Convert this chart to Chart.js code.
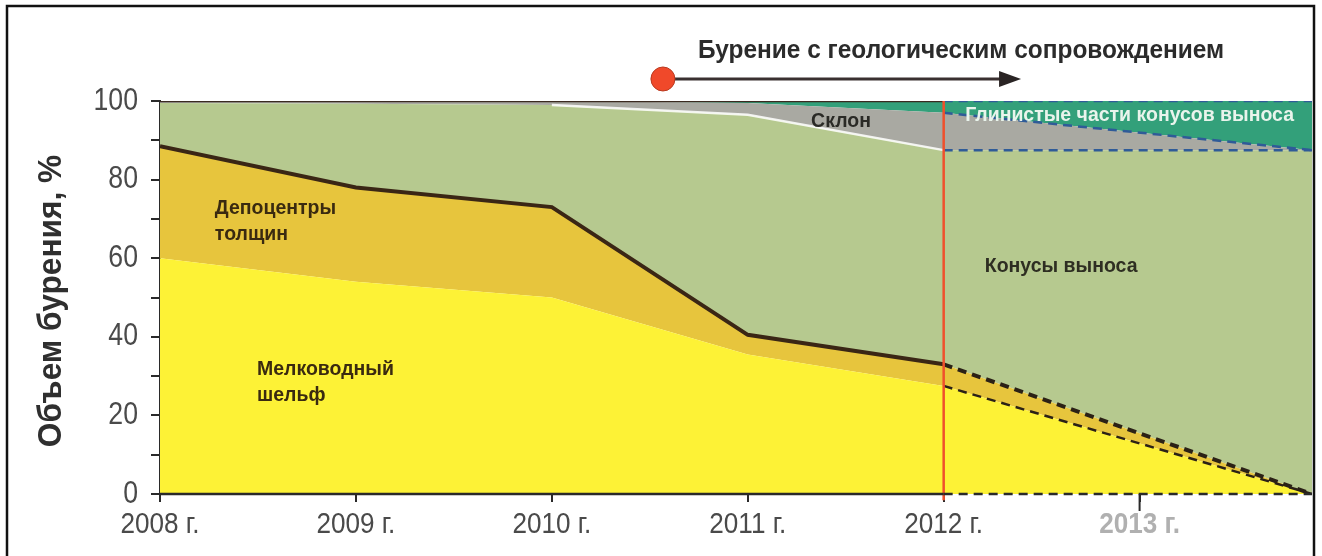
<!DOCTYPE html>
<html lang="ru">
<head>
<meta charset="utf-8">
<title>Объем бурения</title>
<script src="https://cdn.jsdelivr.net/npm/chart.js@4.4.0/dist/chart.umd.min.js"></script>
<style>
  html, body { margin: 0; padding: 0; background: #fff; }
  #box { width: 1322px; height: 556px; }
</style>
</head>
<body>
<div id="box"><canvas id="drillChart" width="1322" height="556"></canvas></div>
<script>
// x positions of the boundary points (last one is the right edge of the forecast)
const years = [2008, 2009, 2010, 2011, 2012, 2013.88];
const tickYears = [2008, 2009, 2010, 2011, 2012, 2013];
const forecastFrom = 2012;

// upper boundary of each facies zone, cumulative %
const shelf = [60, 54, 50, 35.5, 27.5, 0];          // Мелководный шельф
const depocentres = [88.5, 78, 73, 40.5, 33, 0];    // Депоцентры толщин
const fans = [99.5, 99.3, 99, 96.5, 87.5, 87.5];    // Конусы выноса
const slope = [100, 100, 100, 99.5, 97, 87.5];      // Склон
const clay = [100, 100, 100, 100, 100, 100];        // Глинистые части конусов выноса

const yTicks = [0, 20, 40, 60, 80, 100];

const FONT = "'Liberation Sans', Arial, sans-serif";

const pts = vals => vals.map((v, i) => ({ x: years[i], y: v }));
const isForecast = c => c.p0.parsed.x >= forecastFrom;
const clear = 'rgba(0,0,0,0)';
const darkDash = '#2b2116';
const blueDash = '#2f5b98';

// filled band between this boundary and the previous one
function band(label, vals, fill, color) {
  return { label, data: pts(vals), fill, backgroundColor: color, borderWidth: 0, pointRadius: 0 };
}

// boundary line, solid part and dashed forecast part
function edge(vals, before, after, width) {
  return {
    data: pts(vals),
    fill: false,
    borderWidth: width,
    pointRadius: 0,
    segment: {
      borderColor: c => isForecast(c) ? after : before(c),
      borderDash: c => isForecast(c) ? [9, 6] : undefined
    }
  };
}

function condensed(ctx, text, x, y, align, k) {
  ctx.save();
  ctx.translate(x, y);
  ctx.scale(k, 1);
  ctx.textAlign = align;
  ctx.fillText(text, 0, 0);
  ctx.restore();
}

const notes = {
  id: 'notes',
  afterDatasetsDraw(chart) {
    const { ctx, scales: { x, y } } = chart;
    const labels = [
      { lines: ['Депоцентры', 'толщин'], x: 2008.28, y: 72.8, color: '#3a2a10', align: 'left' },
      { lines: ['Мелководный', 'шельф'], x: 2008.495, y: 31.8, color: '#3a2a10', align: 'left' },
      { lines: ['Конусы выноса'], x: 2012.21, y: 58, color: '#2e2e22', align: 'left' },
      { lines: ['Склон'], x: 2011.476, y: 94.7, color: '#2a2a26', align: 'center' },
      { lines: ['Глинистые части конусов выноса'], x: 2012.11, y: 96.4, color: '#e9f4ec', align: 'left' }
    ];
    ctx.save();
    ctx.font = 'bold 20.5px ' + FONT;
    ctx.textBaseline = 'middle';
    labels.forEach(l => {
      ctx.fillStyle = l.color;
      l.lines.forEach((t, i) =>
        condensed(ctx, t, x.getPixelForValue(l.x), y.getPixelForValue(l.y) + i * 26, l.align, 0.95));
    });

    // x axis line: solid for actual years, dashed for forecast
    const y0 = y.getPixelForValue(0);
    const xs = x.getPixelForValue(forecastFrom);
    ctx.strokeStyle = '#2a2a2a';
    ctx.lineWidth = 2.5;
    ctx.beginPath();
    ctx.moveTo(chart.chartArea.left, y0);
    ctx.lineTo(xs, y0);
    ctx.stroke();
    ctx.setLineDash([9, 6]);
    ctx.beginPath();
    ctx.moveTo(xs, y0);
    ctx.lineTo(chart.chartArea.right, y0);
    ctx.stroke();
    ctx.setLineDash([]);
    // longer tick for 2013
    const x13 = x.getPixelForValue(2013);
    ctx.lineWidth = 2;
    ctx.beginPath();
    ctx.moveTo(x13, y0);
    ctx.lineTo(x13, y0 + 17);
    ctx.stroke();
    ctx.restore();
  },
  afterDraw(chart) {
    const { ctx, scales: { x, y } } = chart;
    ctx.save();

    // tick labels, narrow face
    ctx.textBaseline = 'middle';
    ctx.font = '31px ' + FONT;
    ctx.fillStyle = '#4a4a4a';
    y.ticks.forEach(t => {
      if (yTicks.includes(t.value)) condensed(ctx, String(t.value), 138, y.getPixelForValue(t.value), 'right', 0.86);
    });
    x.ticks.forEach(t => {
      const last = t.value === 2013;
      ctx.font = (last ? 'bold ' : '') + '29px ' + FONT;
      ctx.fillStyle = last ? '#b0b0b0' : '#4a4a4a';
      condensed(ctx, t.value + ' г.', x.getPixelForValue(t.value), 525, 'center', 0.9);
    });

    // arrow "drilling with geosteering"
    const ay = y.getPixelForValue(105.6);
    const ax0 = x.getPixelForValue(2010.567);
    const ax1 = x.getPixelForValue(2012.395);
    ctx.strokeStyle = '#3a3030';
    ctx.lineWidth = 3;
    ctx.beginPath();
    ctx.moveTo(ax0, ay);
    ctx.lineTo(ax1 - 18, ay);
    ctx.stroke();
    ctx.fillStyle = '#2a2424';
    ctx.beginPath();
    ctx.moveTo(ax1, ay);
    ctx.lineTo(ax1 - 22, ay - 8);
    ctx.lineTo(ax1 - 22, ay + 8);
    ctx.closePath();
    ctx.fill();
    ctx.fillStyle = '#f0492a';
    ctx.strokeStyle = '#b83a20';
    ctx.lineWidth = 1;
    ctx.beginPath();
    ctx.arc(ax0, ay, 12, 0, Math.PI * 2);
    ctx.fill();
    ctx.stroke();

    ctx.fillStyle = '#2b2b2b';
    ctx.font = 'bold 26px ' + FONT;
    ctx.textBaseline = 'alphabetic';
    condensed(ctx, 'Бурение с геологическим сопровождением', x.getPixelForValue(2010.746), 58, 'left', 0.94);

    // y axis title
    ctx.translate(52, 301);
    ctx.rotate(-Math.PI / 2);
    ctx.textBaseline = 'middle';
    ctx.font = 'bold 33px ' + FONT;
    ctx.fillStyle = '#2f2f2f';
    condensed(ctx, 'Объем бурения, %', 0, 0, 'center', 0.96);
    ctx.restore();

    // outer frame
    ctx.save();
    ctx.strokeStyle = '#111';
    ctx.lineWidth = 2.5;
    ctx.strokeRect(7, 6, 1307, 600);
    ctx.restore();
  }
};

new Chart(document.getElementById('drillChart').getContext('2d'), {
  type: 'line',
  data: {
    datasets: [
      band('Мелководный шельф', shelf, 'origin', '#fdf236'),
      band('Депоцентры толщин', depocentres, '-1', '#e7c53d'),
      band('Конусы выноса', fans, '-1', '#b6c98f'),
      band('Склон', slope, '-1', '#a9a9a2'),
      band('Глинистые части конусов выноса', clay, '-1', '#33a07a'),
      edge(shelf, () => clear, darkDash, 2.5),
      edge(depocentres, () => '#3a2615', darkDash, 4),
      edge(fans, c => c.p0.parsed.x >= 2010 ? 'rgba(255,255,255,0.85)' : clear, blueDash, 2.5),
      edge(slope, () => clear, blueDash, 2.5),
      edge(clay, () => '#3a2a20', blueDash, 2.5),
      {
        data: [{ x: forecastFrom, y: -1.6 }, { x: forecastFrom, y: 100 }],
        borderColor: '#f0502c',
        borderWidth: 2.5,
        pointRadius: 0,
        fill: false,
        clip: false,
        order: -1
      }
    ]
  },
  options: {
    responsive: false,
    animation: false,
    events: [],
    layout: { padding: { top: 101, right: 10, left: 0, bottom: 0 } },
    plugins: {
      legend: { display: false },
      tooltip: { enabled: false },
      filler: { drawTime: 'beforeDatasetsDraw' }
    },
    scales: {
      x: {
        type: 'linear',
        min: years[0],
        max: years[years.length - 1],
        afterFit: s => { s.height = 62; },
        afterBuildTicks: s => { s.ticks = tickYears.map(v => ({ value: v })); },
        border: { display: false },
        grid: { drawOnChartArea: false, tickLength: 8, tickColor: '#2a2a2a', lineWidth: 2 },
        ticks: { display: false }
      },
      y: {
        min: 0,
        max: 100,
        afterFit: s => { s.width = 160; },
        border: { display: true, color: '#2a2a2a', width: 2 },
        grid: { drawOnChartArea: false, tickLength: 9, tickColor: '#2a2a2a', lineWidth: 2 },
        ticks: { display: false, stepSize: 10 }
      }
    }
  },
  plugins: [notes]
});
</script>
</body>
</html>
